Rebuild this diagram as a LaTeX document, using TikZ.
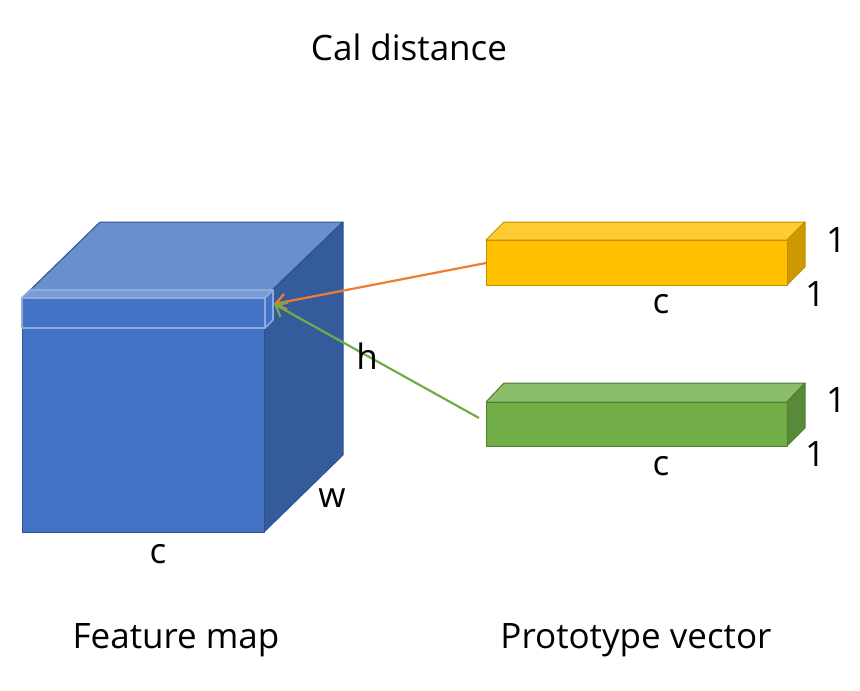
\documentclass[tikz,border=0pt]{standalone}
\usepackage{fontspec}
\setmainfont{Open Sans}
\usetikzlibrary{arrows.meta}
\tikzset{
  lbl/.style={font=\fontsize{35}{42}\selectfont, text=black},
  cubeedge/.style={draw=blue!45!black!80, line width=1pt, line join=round},
  sliceedge/.style={draw=slicerim, line width=1.6pt, line join=round},
  conn/.style={line width=2.2pt, -{Straight Barb[length=10pt,width=16pt,line width=2.2pt]}}
}
\definecolor{cubefront}{HTML}{4472C4}
\definecolor{cubetop}{HTML}{6A8FCF}
\definecolor{cubeside}{HTML}{345C9C}
\definecolor{cubeline}{HTML}{2F528F}
\definecolor{slicerim}{HTML}{8FAADC}
\definecolor{slicetop}{HTML}{7B9BD6}
\definecolor{yfront}{HTML}{FFC000}
\definecolor{ytop}{HTML}{FFCB33}
\definecolor{yside}{HTML}{CC9A00}
\definecolor{yline}{HTML}{BF9000}
\definecolor{gfront}{HTML}{70AD47}
\definecolor{gtop}{HTML}{8CBD6B}
\definecolor{gside}{HTML}{5A8A39}
\definecolor{gline}{HTML}{507E32}
\definecolor{oarrow}{HTML}{ED7D31}
\definecolor{garrow}{HTML}{70AD47}
\begin{document}
\begin{tikzpicture}[x=1pt, y=-1pt]
    \useasboundingbox (0,0) rectangle (860,691);
    % feature map cube
    \filldraw[cubeedge, draw=cubeline, fill=cubetop] (22,298) -- (100,222) -- (343,222) -- (264,298) -- cycle;
    \filldraw[cubeedge, draw=cubeline, fill=cubeside] (264,298) -- (343,222) -- (343,455) -- (264,532) -- cycle;
    \filldraw[cubeedge, draw=cubeline, fill=cubefront] (22,298) rectangle (264,532);
    % slice along c
    \filldraw[sliceedge, fill=slicetop] (22,298) -- (30,290) -- (273,290) -- (265,298) -- cycle;
    \filldraw[sliceedge, fill=cubefront] (265,298) -- (273,290) -- (273,320) -- (265,328) -- cycle;
    \filldraw[sliceedge, fill=cubefront] (22,298) rectangle (265,328);
    \coordinate (slice) at (274,304);
    % prototype vectors
    \filldraw[cubeedge, draw=yline, fill=ytop] (486,240) -- (504,222) -- (805,222) -- (787,240) -- cycle;
    \filldraw[cubeedge, draw=yline, fill=yside] (787,240) -- (805,222) -- (805,267) -- (787,285) -- cycle;
    \filldraw[cubeedge, draw=yline, fill=yfront] (486,240) rectangle (787,285);
    \coordinate (ybar) at (486,263);
    \filldraw[cubeedge, draw=gline, fill=gtop] (486,402) -- (504,383) -- (805,383) -- (787,402) -- cycle;
    \filldraw[cubeedge, draw=gline, fill=gside] (787,402) -- (805,383) -- (805,428) -- (787,446) -- cycle;
    \filldraw[cubeedge, draw=gline, fill=gfront] (486,402) rectangle (787,446);
    \coordinate (gbar) at (479,418);
    % connectors
    \draw[conn, oarrow] (ybar) -- (slice);
    \draw[conn, garrow] (gbar) -- (slice);
    % labels
    \node[lbl] (title) at (409,47) {Cal distance};
    \node[lbl] (h) at (367,356) {h};
    \node[lbl] (w) at (332,498) {w};
    \node[lbl] (cfm) at (158,554) {c};
    \node[lbl] (cy) at (661,304) {c};
    \node[lbl] (cg) at (661,466) {c};
    \node[lbl] (y1a) at (836,240) {1};
    \node[lbl] (y1b) at (815,294) {1};
    \node[lbl] (g1a) at (836,400) {1};
    \node[lbl] (g1b) at (815,454) {1};
    \node[lbl] (fm) at (176,640) {Feature map};
    \node[lbl] (pv) at (636,640) {Prototype vector};
\end{tikzpicture}
\end{document}
